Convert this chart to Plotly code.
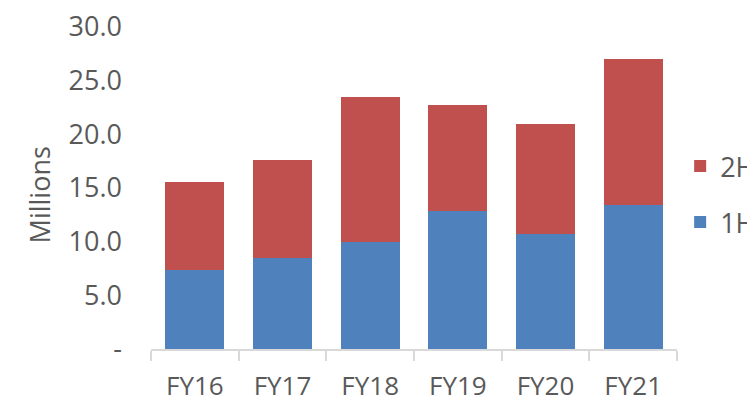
import plotly.graph_objects as go

categories = ["FY16", "FY17", "FY18", "FY19", "FY20", "FY21"]
h1 = [7.4, 8.5, 10.0, 12.9, 10.7, 13.4]
h2 = [8.2, 9.1, 13.5, 9.8, 10.3, 13.6]
tick_vals = [0, 5, 10, 15, 20, 25, 30]
tick_text = ["-", "5.0", "10.0", "15.0", "20.0", "25.0", "30.0"]
y_title = "Millions"

FONT = "Open Sans"
GREY = "#595959"
FS = 27

fig = go.Figure()
fig.add_trace(go.Bar(x=categories, y=h1, name="1H", marker=dict(color="#4F81BD", line=dict(width=0)),
                     legendgroup="b", legendrank=2))
fig.add_trace(go.Bar(x=categories, y=h2, name="2H", marker=dict(color="#C0504D", line=dict(width=0)),
                     legendgroup="a", legendrank=1))

fig.update_layout(
    width=747, height=395,
    barmode="stack", bargap=0.33,
    paper_bgcolor="white", plot_bgcolor="white",
    margin=dict(l=143, r=78, t=19, b=54, autoexpand=False),
    font=dict(family=FONT, size=FS, color=GREY),
    showlegend=True,
    legend=dict(traceorder="grouped", x=1.006, xanchor="left", y=0.48, yanchor="middle",
                font=dict(size=FS, color=GREY), tracegroupgap=18, bgcolor="rgba(0,0,0,0)"),
    xaxis=dict(showline=True, linecolor="#D9D9D9", linewidth=1.5, ticks="outside", ticklen=10,
               tickcolor="#D9D9D9", tickwidth=1.5, tickson="boundaries", showgrid=False,
               automargin=False, ticklabelstandoff=13, ticklabeloverflow="allow",
               tickfont=dict(size=26, color=GREY)),
    yaxis=dict(range=[0, 30], tickvals=tick_vals, ticktext=tick_text, showgrid=False,
               showline=False, zeroline=False, ticks="", ticklabelstandoff=28,
               automargin=False, ticklabeloverflow="allow",
               tickfont=dict(size=FS, color=GREY)),
    annotations=[dict(text=y_title, textangle=-90, xref="paper", yref="paper",
                      x=-0.213, y=0.48, xanchor="center", yanchor="middle", showarrow=False,
                      font=dict(size=FS, color=GREY))],
)

fig.write_html("out.html")
